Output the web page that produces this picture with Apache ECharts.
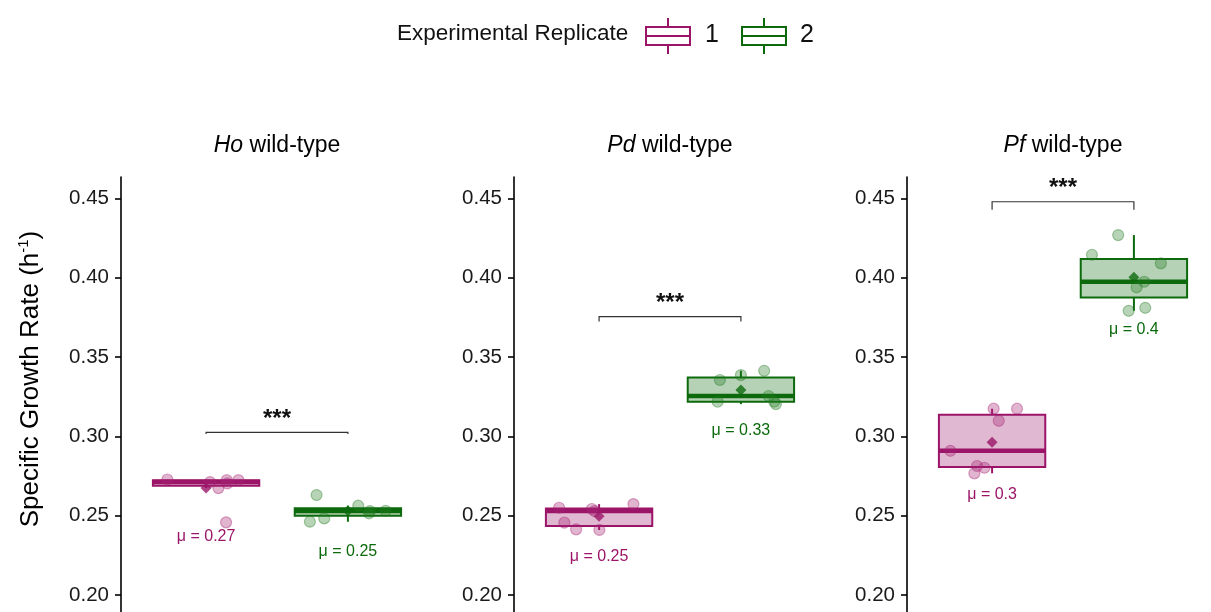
<!DOCTYPE html>
<html>
<head>
<meta charset="utf-8">
<script src="https://cdn.jsdelivr.net/npm/echarts@6/dist/echarts.min.js"></script>
<style>
  html, body { margin: 0; padding: 0; background: #ffffff; }
  #chart { width: 1211px; height: 612px; }
</style>
</head>
<body>
<div id="chart"></div>
<script>
// Strains shown in the three facets and the two experimental replicates
const strains = ['Ho', 'Pd', 'Pf'];
const replicates = ['1', '2'];

// Specific growth rates (h^-1), one value per culture
const hoRep1 = [0.2728, 0.2674, 0.2724, 0.2703, 0.2724, 0.2458, 0.2712];
const hoRep2 = [0.2630, 0.2462, 0.2483, 0.2563, 0.2515, 0.2531, 0.2529];
const pdRep1 = [0.2550, 0.2456, 0.2414, 0.2542, 0.2410, 0.2573, 0.2529];
const pdRep2 = [0.3355, 0.3218, 0.3386, 0.3413, 0.3254, 0.3203, 0.3218];
const pfRep1 = [0.3174, 0.3174, 0.3098, 0.2909, 0.2813, 0.2802, 0.2767];
const pfRep2 = [0.4268, 0.4144, 0.4090, 0.3974, 0.3939, 0.3791, 0.3810];

// Horizontal jitter of each culture around its replicate position
const hoRep1Jitter = [-0.273, 0.087, 0.146, 0.150, 0.228, 0.141, 0.028];
const hoRep2Jitter = [-0.221, -0.268, -0.167, 0.073, 0.148, 0.266, 0.155];
const pdRep1Jitter = [-0.282, -0.245, -0.162, -0.051, 0.002, 0.242, -0.030];
const pdRep2Jitter = [-0.148, -0.164, 0.000, 0.164, 0.195, 0.247, 0.235];
const pfRep1Jitter = [0.011, 0.176, 0.047, -0.294, -0.106, -0.054, -0.125];
const pfRep2Jitter = [-0.111, -0.296, 0.190, 0.073, 0.019, -0.037, 0.080];

// Where the mean annotations sit (rate units), per strain: [rep 1, rep 2]
const hoMeanLabelAt = [0.2367, 0.2273];
const pdMeanLabelAt = [0.2241, 0.3035];
const pfMeanLabelAt = [0.2630, 0.3670];

// Significance brackets per strain: bracket height and tip drop (rate units)
const bracketHeight = [0.3025, 0.3754, 0.4478];
const bracketTip = [0.001, 0.003, 0.005];
const significance = ['***', '***', '***'];

// Y axis tick values
const yTicks = [0.20, 0.25, 0.30, 0.35, 0.40, 0.45];

const rates = [[hoRep1, hoRep2], [pdRep1, pdRep2], [pfRep1, pfRep2]];
const jitter = [[hoRep1Jitter, hoRep2Jitter], [pdRep1Jitter, pdRep2Jitter], [pfRep1Jitter, pfRep2Jitter]];
const meanLabelAt = [hoMeanLabelAt, pdMeanLabelAt, pfMeanLabelAt];

const FONT = "'Liberation Sans', Arial, Helvetica, sans-serif";
const colors = ['#9B1468', '#0C6A0C'];
const pointColors = ['rgba(165, 35, 115, 0.42)', 'rgba(30, 120, 30, 0.40)'];
const pointBorders = ['rgba(165, 35, 115, 0.50)', 'rgba(30, 120, 30, 0.48)'];
const boxFills = ['rgba(155, 20, 104, 0.30)', 'rgba(12, 106, 12, 0.30)'];
const BOX_WIDTH = 0.75;

const gridLefts = [121, 514, 907];
const GRID_TOP = 177;
const GRID_WIDTH = 312;
const Y_MIN = 0.15;
const Y_MAX = 0.4634;
const GRID_HEIGHT = 497.4;

function quantile(sorted, p) {
  const h = (sorted.length - 1) * p;
  const lo = Math.floor(h);
  const hi = Math.min(lo + 1, sorted.length - 1);
  return sorted[lo] + (h - lo) * (sorted[hi] - sorted[lo]);
}

// Tukey box statistics: [lower whisker, Q1, median, Q3, upper whisker]
function boxStats(vals) {
  const s = vals.slice().sort((a, b) => a - b);
  const q1 = quantile(s, 0.25), med = quantile(s, 0.5), q3 = quantile(s, 0.75);
  const iqr = q3 - q1;
  const inside = s.filter(v => v >= q1 - 1.5 * iqr && v <= q3 + 1.5 * iqr);
  return [inside[0], q1, med, q3, inside[inside.length - 1]];
}

function mean(vals) {
  return vals.reduce((a, b) => a + b, 0) / vals.length;
}

function fmtMean(m) {
  return String(Math.round(m * 100) / 100);
}

function makeBoxRenderer(rep) {
  return function (params, api) {
    const x = api.value(0);
    const lo = api.coord([x, api.value(1)]);
    const q1 = api.coord([x, api.value(2)]);
    const md = api.coord([x, api.value(3)]);
    const q3 = api.coord([x, api.value(4)]);
    const hi = api.coord([x, api.value(5)]);
    const half = api.size([BOX_WIDTH, 0])[0] / 2;
    const c = colors[rep];
    return {
      type: 'group',
      children: [
        { type: 'line', shape: { x1: lo[0], y1: lo[1], x2: q1[0], y2: q1[1] }, style: { stroke: c, lineWidth: 2 } },
        { type: 'line', shape: { x1: q3[0], y1: q3[1], x2: hi[0], y2: hi[1] }, style: { stroke: c, lineWidth: 2 } },
        { type: 'rect', shape: { x: q3[0] - half, y: q3[1], width: half * 2, height: q1[1] - q3[1] },
          style: { fill: boxFills[rep], stroke: c, lineWidth: 2 } },
        { type: 'line', shape: { x1: md[0] - half, y1: md[1], x2: md[0] + half, y2: md[1] }, style: { stroke: c, lineWidth: 4.5 } }
      ]
    };
  };
}

function renderMeanLabel(params, api) {
  const p = api.coord([api.value(0), api.value(1)]);
  const rep = api.value(3);
  return {
    type: 'text',
    x: p[0], y: p[1],
    style: {
      text: 'μ = ' + fmtMean(api.value(2)),
      fill: colors[rep],
      fontSize: 16,
      fontFamily: FONT,
      align: 'center',
      verticalAlign: 'middle'
    }
  };
}

function makeBracketRenderer(p) {
  return function (params, api) {
    const a = api.coord([api.value(0), api.value(2)]);
    const b = api.coord([api.value(1), api.value(2)]);
    const tipPx = api.size([0, api.value(3)])[1];
    return {
      type: 'group',
      children: [
        { type: 'polyline',
          shape: { points: [[a[0], a[1] + tipPx], [a[0], a[1]], [b[0], b[1]], [b[0], b[1] + tipPx]] },
          style: { stroke: '#333333', lineWidth: 1.2, fill: null } },
        { type: 'text', x: (a[0] + b[0]) / 2, y: a[1] - 13,
          style: { text: significance[p], fill: '#111111', fontWeight: 'bold',
                   fontSize: 24, fontFamily: FONT, align: 'center', verticalAlign: 'middle' } }
      ]
    };
  };
}

const grid = [], xAxis = [], yAxis = [], series = [];

strains.forEach((strain, p) => {
  grid.push({ left: gridLefts[p], top: GRID_TOP, width: GRID_WIDTH, height: GRID_HEIGHT, outerBoundsMode: 'none', containLabel: false });
  xAxis.push({ gridIndex: p, type: 'value', min: 0.4, max: 2.6, show: false });
  yAxis.push({
    gridIndex: p, type: 'value', min: Y_MIN, max: Y_MAX,
    axisLine: { show: true, lineStyle: { color: '#000000', width: 1.6 } },
    axisTick: { show: true, length: 6, lineStyle: { color: '#000000', width: 1.6 }, customValues: yTicks },
    axisLabel: { show: true, color: '#1A1A1A', fontSize: 20.5, fontFamily: FONT, margin: 12,
                 customValues: yTicks, formatter: v => v.toFixed(2) },
    splitLine: { show: false }
  });

  replicates.forEach((rep, r) => {
    const vals = rates[p][r];
    const xPos = r + 1;
    series.push({
      name: rep, type: 'custom', xAxisIndex: p, yAxisIndex: p, z: 2,
      renderItem: makeBoxRenderer(r),
      encode: { x: 0, y: [1, 2, 3, 4, 5] },
      data: [[xPos].concat(boxStats(vals))]
    });
    series.push({
      name: rep, type: 'scatter', xAxisIndex: p, yAxisIndex: p, z: 3,
      symbol: 'circle', symbolSize: 11,
      itemStyle: { color: pointColors[r], borderColor: pointBorders[r], borderWidth: 1.2 },
      data: vals.map((v, i) => [xPos + jitter[p][r][i], v]),
      silent: true
    });
    series.push({
      name: rep, type: 'scatter', xAxisIndex: p, yAxisIndex: p, z: 4,
      symbol: 'diamond', symbolSize: [11, 11],
      itemStyle: { color: colors[r] },
      data: [[xPos, mean(vals)]],
      silent: true
    });
    series.push({
      type: 'custom', xAxisIndex: p, yAxisIndex: p, z: 5,
      renderItem: renderMeanLabel,
      encode: { x: 0, y: 1 },
      data: [[xPos, meanLabelAt[p][r], mean(vals), r]]
    });
  });

  series.push({
    type: 'custom', xAxisIndex: p, yAxisIndex: p, z: 5,
    renderItem: makeBracketRenderer(p),
    encode: { x: [0, 1], y: 2 },
    data: [[1, 2, bracketHeight[p], bracketTip[p]]]
  });
});

// Facet titles, axis title and replicate key
const graphic = [];
strains.forEach((strain, p) => {
  graphic.push({
    type: 'text',
    x: gridLefts[p] + GRID_WIDTH / 2, y: 146,
    style: {
      text: '{i|' + strain + '}{r| wild-type}',
      rich: {
        i: { fontStyle: 'italic', fontSize: 23, fontFamily: FONT, fill: '#000000' },
        r: { fontSize: 23, fontFamily: FONT, fill: '#000000' }
      },
      textAlign: 'center', textVerticalAlign: 'middle'
    }
  });
});
graphic.push({
  type: 'text', x: 31, y: 379, rotation: Math.PI / 2,
  style: {
    text: '{t|Specific Growth Rate (h}{s|-1}{t|)}',
    rich: {
      t: { fontSize: 26, fontFamily: FONT, fill: '#000000', lineHeight: 30 },
      s: { fontSize: 15, fontFamily: FONT, fill: '#000000', verticalAlign: 'top', lineHeight: 30 }
    },
    textAlign: 'center', textVerticalAlign: 'middle'
  }
});
graphic.push({
  type: 'text', x: 397, y: 34,
  style: { text: 'Experimental Replicate', fontSize: 22.5, fontFamily: FONT, fill: '#111111',
           textAlign: 'left', textVerticalAlign: 'middle' }
});
const keyLefts = [646, 742];
const keyLabelX = [705, 800];
replicates.forEach((rep, r) => {
  const x0 = keyLefts[r], w = 44, cx = x0 + w / 2;
  graphic.push({ type: 'line', shape: { x1: cx, y1: 18, x2: cx, y2: 27 }, style: { stroke: colors[r], lineWidth: 2 } });
  graphic.push({ type: 'line', shape: { x1: cx, y1: 45, x2: cx, y2: 54 }, style: { stroke: colors[r], lineWidth: 2 } });
  graphic.push({ type: 'rect', shape: { x: x0, y: 27, width: w, height: 18 }, style: { fill: '#ffffff', stroke: colors[r], lineWidth: 2 } });
  graphic.push({ type: 'line', shape: { x1: x0, y1: 36, x2: x0 + w, y2: 36 }, style: { stroke: colors[r], lineWidth: 2 } });
  graphic.push({
    type: 'text', x: keyLabelX[r], y: 35,
    style: { text: rep, fontSize: 25, fontFamily: FONT, fill: '#111111', textAlign: 'left', textVerticalAlign: 'middle' }
  });
});

const chart = echarts.init(document.getElementById('chart'), null, { renderer: 'canvas' });
chart.setOption({
  backgroundColor: '#ffffff',
  animation: false,
  grid: grid,
  xAxis: xAxis,
  yAxis: yAxis,
  series: series,
  graphic: graphic
});
</script>
</body>
</html>
